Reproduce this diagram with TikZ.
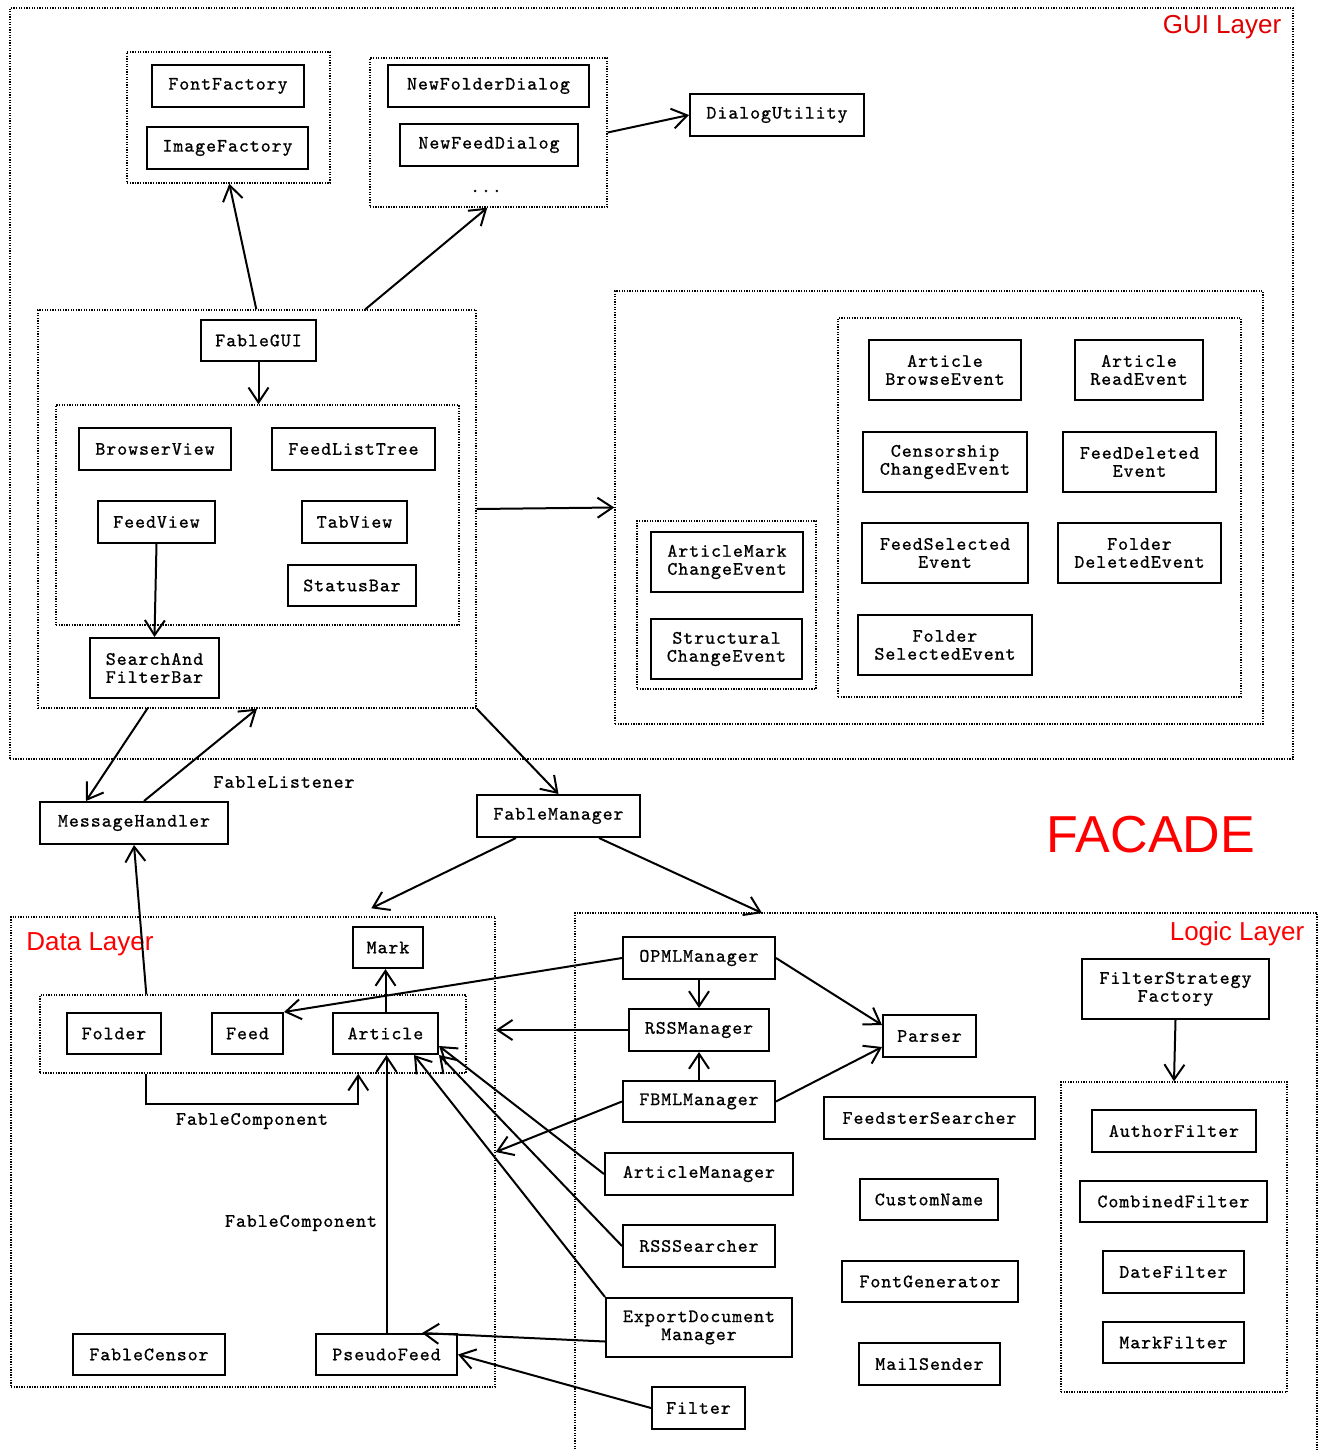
\documentclass[tikz,border=0pt]{standalone}
\usepackage{fontspec}
\newfontfamily\codefont{lmmono10-regular.otf}[LetterSpace=5,FakeBold=0.8]
\newfontfamily\labfont{Liberation Sans}
\usetikzlibrary{arrows.meta,calc}
\begin{document}
\begin{tikzpicture}[x=1pt,y=-1pt,
  box/.style={draw,line width=2pt,inner sep=0pt,align=center,
    font=\codefont\fontsize{19}{18}\selectfont},
  grp/.style={draw,line width=1.4pt,dash pattern=on 1.3pt off 1.3pt,inner sep=0pt},
  con/.style={line width=2pt,-{Straight Barb[length=15pt,width=20pt,line width=2pt]}},
  lbl/.style={font=\codefont\fontsize{19}{18}\selectfont,inner sep=0pt},
  red/.style={text=red,inner sep=0pt,font=\labfont\fontsize{26}{30}\selectfont}]
\useasboundingbox (0,0) rectangle (1322,1450);
\fill[white] (0,0) rectangle (1322,1450);
% ---------- GUI layer ----------
\node[grp,minimum width=1283pt,minimum height=751pt] (guilayer) at (651.5,383.5) {};
\node[red,text=red!88!black] (guilbl) at (1222,27) {GUI Layer};
\node[grp,minimum width=203pt,minimum height=131pt] (g1) at (228.5,117.5) {};
\node[box,minimum width=152pt,minimum height=42pt] (fontf) at (228,86) {FontFactory};
\node[box,minimum width=161pt,minimum height=42pt] (imagef) at (227.5,148) {ImageFactory};
\node[grp,minimum width=237pt,minimum height=149pt] (g2) at (488.5,132.5) {};
\node[box,minimum width=201pt,minimum height=42pt] (newfolder) at (488.5,86) {NewFolderDialog};
\node[box,minimum width=178pt,minimum height=42pt] (newfeed) at (489,145) {NewFeedDialog};
\node[lbl] (dots) at (486,191) {...};
\node[box,minimum width=174pt,minimum height=42pt] (dialogu) at (777,115) {DialogUtility};
\node[grp,minimum width=438pt,minimum height=398pt] (guiout) at (257,509) {};
\node[box,minimum width=115pt,minimum height=41pt] (fablegui) at (258.5,340.5) {FableGUI};
\node[grp,minimum width=403pt,minimum height=220pt] (guiin) at (257.5,515) {};
\node[box,minimum width=152pt,minimum height=42pt] (browser) at (155,449) {BrowserView};
\node[box,minimum width=163pt,minimum height=42pt] (feedlist) at (353.5,449) {FeedListTree};
\node[box,minimum width=117pt,minimum height=42pt] (feedview) at (156.5,522) {FeedView};
\node[box,minimum width=105pt,minimum height=42pt] (tabview) at (354.5,522) {TabView};
\node[box,minimum width=128pt,minimum height=41pt] (statusbar) at (352,585.5) {StatusBar};
\node[box,minimum width=129pt,minimum height=60pt] (search) at (154.5,668) {SearchAnd\\FilterBar};
% events
\node[grp,minimum width=648pt,minimum height=433pt] (events) at (939,507.5) {};
\node[grp,minimum width=179pt,minimum height=168pt] (evA) at (726.5,605) {};
\node[box,minimum width=152pt,minimum height=60pt] (amce) at (727,562) {ArticleMark\\ChangeEvent};
\node[box,minimum width=151pt,minimum height=60pt] (sce) at (726.5,649) {Structural\\ChangeEvent};
\node[grp,minimum width=403pt,minimum height=379pt] (evB) at (1039.5,507.5) {};
\node[box,minimum width=152pt,minimum height=60pt] (abe) at (945,370) {Article\\BrowseEvent};
\node[box,minimum width=128pt,minimum height=60pt] (are) at (1139,370) {Article\\ReadEvent};
\node[box,minimum width=164pt,minimum height=60pt] (cce) at (945,462) {Censorship\\ChangedEvent};
\node[box,minimum width=153pt,minimum height=60pt] (fde) at (1139.5,462) {FeedDeleted\\Event};
\node[box,minimum width=166pt,minimum height=60pt] (fse) at (945,553) {FeedSelected\\Event};
\node[box,minimum width=163pt,minimum height=60pt] (flde) at (1139.5,553) {Folder\\DeletedEvent};
\node[box,minimum width=174pt,minimum height=60pt] (flse) at (945,645) {Folder\\SelectedEvent};
% ---------- facade ----------
\node[box,minimum width=188pt,minimum height=42pt] (msgh) at (134,823) {MessageHandler};
\node[box,minimum width=163pt,minimum height=42pt] (fman) at (558.5,816) {FableManager};
\node[lbl] (flist) at (284,782) {FableListener};
\node[text=red,inner sep=0pt,font=\labfont\fontsize{52}{56}\selectfont] (facade) at (1151,835) {FACADE};
% ---------- data layer ----------
\node[grp,minimum width=484pt,minimum height=470pt] (data) at (253,1152) {};
\node[red] (datalbl) at (90,944) {Data Layer};
\node[box,minimum width=70pt,minimum height=41pt] (mark) at (388,947.5) {Mark};
\node[grp,minimum width=426pt,minimum height=78pt] (dataIn) at (253,1034) {};
\node[box,minimum width=94pt,minimum height=41pt] (folder) at (114,1033.5) {Folder};
\node[box,minimum width=71pt,minimum height=41pt] (feed) at (247.5,1033.5) {Feed};
\node[box,minimum width=105pt,minimum height=41pt] (article) at (385.5,1033.5) {Article};
\node[box,minimum width=152pt,minimum height=41pt] (censor) at (149,1354.5) {FableCensor};
\node[box,minimum width=141pt,minimum height=41pt] (pseudo) at (386.5,1354.5) {PseudoFeed};
\node[lbl] (fc1) at (252,1121) {FableComponent};
\node[lbl] (fc2) at (301,1223) {FableComponent};
% ---------- logic layer ----------
\draw[grp] (575,1452) |- (1317,913) -- (1317,1452);
\coordinate (logictop) at (762,913);
\node[red] (logiclbl) at (1237,934) {Logic Layer};
\node[box,minimum width=152pt,minimum height=42pt] (opml) at (699,958) {OPMLManager};
\node[box,minimum width=140pt,minimum height=42pt] (rssm) at (699,1030) {RSSManager};
\node[box,minimum width=152pt,minimum height=41pt] (fbml) at (699,1101.5) {FBMLManager};
\node[box,minimum width=188pt,minimum height=42pt] (artm) at (699,1174) {ArticleManager};
\node[box,minimum width=152pt,minimum height=42pt] (rsss) at (699,1246) {RSSSearcher};
\node[box,minimum width=186pt,minimum height=59pt] (expd) at (699,1327.5) {ExportDocument\\Manager};
\node[box,minimum width=93pt,minimum height=42pt] (filter) at (698.5,1408) {Filter};
\node[box,minimum width=93pt,minimum height=42pt] (parser) at (929.5,1036) {Parser};
\node[box,minimum width=211pt,minimum height=42pt] (feedster) at (929.5,1118) {FeedsterSearcher};
\node[box,minimum width=138pt,minimum height=41pt] (custom) at (929,1199.5) {CustomName};
\node[box,minimum width=176pt,minimum height=41pt] (fontgen) at (930,1281.5) {FontGenerator};
\node[box,minimum width=141pt,minimum height=42pt] (mail) at (929.5,1364) {MailSender};
\node[box,minimum width=187pt,minimum height=60pt] (fsf) at (1175.5,989) {FilterStrategy\\Factory};
\node[grp,minimum width=226pt,minimum height=310pt] (filters) at (1174,1237) {};
\node[box,minimum width=164pt,minimum height=42pt] (author) at (1174,1131) {AuthorFilter};
\node[box,minimum width=187pt,minimum height=41pt] (combined) at (1173.5,1201.5) {CombinedFilter};
\node[box,minimum width=141pt,minimum height=42pt] (date) at (1173.5,1272) {DateFilter};
\node[box,minimum width=141pt,minimum height=41pt] (markf) at (1173.5,1342.5) {MarkFilter};
% ---------- connectors ----------
\draw[con] ([xshift=219pt]guiout.north west) -- ([xshift=103pt]g1.south west);
\draw[con] ([xshift=328pt]guiout.north west) -- ([xshift=118pt]g2.south west);
\draw[con] (g2.east) -- (dialogu.west);
\draw[con] (fablegui.south) -- (fablegui.south |- guiin.north);
\draw[con] (feedview.south) -- (search.north);
\draw[con] (guiout.east) -- (events.west);
\draw[con] ([xshift=110pt]guiout.south west) -- ([xshift=47pt]msgh.north west);
\draw[con] ([xshift=105pt]msgh.north west) -- (guiout.south);
\draw[con] (guiout.south east) -- (fman.north);
\draw[con] ([xshift=40pt]fman.south west) -- ([xshift=361pt,yshift=8pt]data.north west);
\draw[con] ([xshift=123pt]fman.south west) -- (logictop);
\draw[con] ([xshift=107pt]dataIn.north west) -- (msgh.south);
\draw[con] (article.north) -- (article.north |- mark.south);
\draw[con] ([xshift=107pt]dataIn.south west) -- ++(0,30) -| ([xshift=319pt]dataIn.south west);
\draw[con] (pseudo.north) -- (pseudo.north |- article.south);
\draw[con] (expd.north west) -- ([xshift=-25pt]article.south east);
\draw[con] (artm.west) -- ([yshift=9pt]article.south east);
\draw[con] (rsss.west) -- (article.south east);
\draw[con] ([yshift=-14pt]expd.west) -- ([xshift=-36pt]pseudo.north east);
\draw[con] (filter.west) -- (pseudo.east);
\draw[con] (opml.west) -- (feed.north east);
\draw[con] (opml.south) -- (rssm.north);
\draw[con] (opml.east) -- ([yshift=11pt]parser.west);
\draw[con] (rssm.west) -- (rssm.west -| data.east);
\draw[con] (fbml.north) -- (rssm.south);
\draw[con] (fbml.east) -- ([yshift=-11pt]parser.west);
\draw[con] (fbml.west) -- (data.east);
\draw[con] (fsf.south) -- (filters.north);
\end{tikzpicture}
\end{document}
